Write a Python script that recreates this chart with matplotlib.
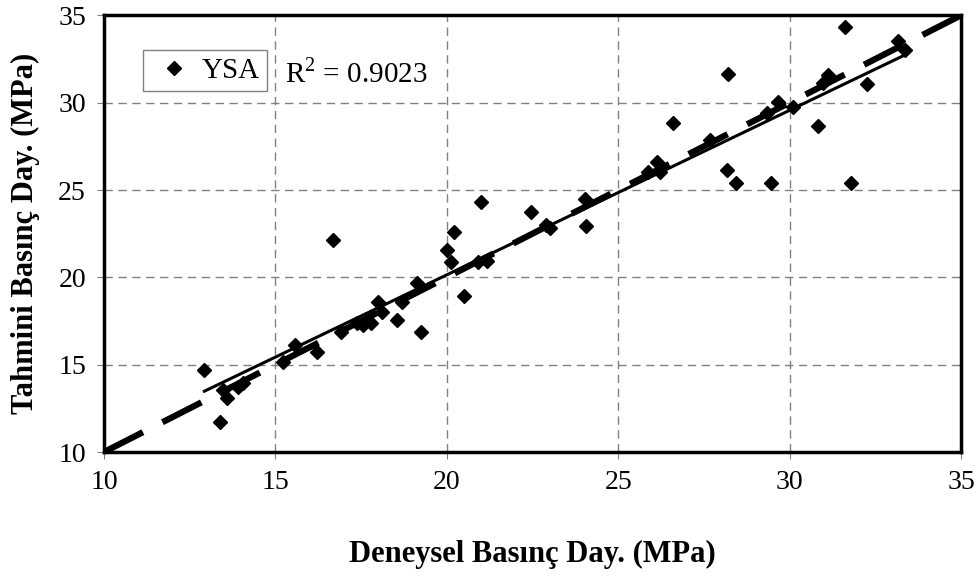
import numpy as np
import matplotlib
matplotlib.use('Agg')
import matplotlib.pyplot as plt

plt.rcParams['font.family'] = ['Liberation Serif', 'DejaVu Serif']
plt.rcParams['mathtext.fontset'] = 'custom'
plt.rcParams['mathtext.rm'] = 'Liberation Serif'

# Measured (Deneysel) vs. predicted (Tahmini) compressive strength, MPa
deneysel = [12.93, 13.38, 13.58, 13.48, 13.90, 14.06, 15.23, 15.57, 16.20, 16.91,
            17.37, 16.67, 17.56, 17.80, 18.00, 18.10, 18.54, 18.68, 19.12, 19.24,
            20.00, 20.11, 20.22, 20.51, 21.00, 20.92, 21.16, 22.45, 23.01, 22.90,
            24.06, 24.03, 26.59, 26.12, 26.22, 25.88, 28.21, 27.68, 28.16, 28.45,
            29.45, 29.67, 30.11, 29.33, 30.84, 31.62, 31.78, 32.25, 31.13, 30.98,
            33.17, 33.37]
tahmini = [14.72, 11.70, 13.08, 13.55, 13.74, 13.93, 15.17, 16.13, 15.71, 16.86,
           17.37, 22.14, 17.27, 17.37, 18.60, 18.03, 17.56, 18.60, 19.66, 16.86,
           21.57, 20.90, 22.61, 18.93, 24.30, 20.90, 20.95, 23.76, 22.81, 23.00,
           22.96, 24.47, 28.82, 26.62, 26.05, 26.05, 31.64, 27.86, 26.14, 25.42,
           25.42, 30.05, 29.77, 29.39, 28.68, 34.31, 25.38, 31.07, 31.58, 31.10,
           33.55, 33.01]
r2_text = 'R$^2$ = 0.9023'
ticks = [10, 15, 20, 25, 30, 35]

fig = plt.figure(figsize=(9.78, 5.74), dpi=100)
ax = fig.add_axes([0.1063, 0.2125, 0.8763, 0.7608])

ax.grid(True, color='#808080', linestyle=(0, (6, 4)), linewidth=1)
ax.set_axisbelow(True)

ax.plot(deneysel, tahmini, linestyle='none', marker='D', markersize=7.5,
        color='black', label='YSA', zorder=3)

# linear trend line
x = np.array(deneysel)
k, b = np.polyfit(x, np.array(tahmini), 1)
xs = np.array([x.min(), x.max()])
ax.plot(xs, k * xs + b, color='black', linewidth=2.2, zorder=4)

# y = x reference line
ax.plot([10, 35], [10, 35], color='black', linewidth=4.5,
        linestyle=(0, (7, 3.5)), solid_capstyle='butt', zorder=4)

ax.set_xlim(10, 35)
ax.set_ylim(10, 35)
ax.set_xticks(ticks)
ax.set_yticks(ticks)
ax.tick_params(labelsize=20, direction='out', length=5, color='#808080', pad=8)
for s in ax.spines.values():
    s.set_linewidth(2.5)

ax.set_xlabel('Deneysel Basınç Day. (MPa)', fontsize=22, fontweight='bold', labelpad=32)
ax.set_ylabel('Tahmini Basınç Day. (MPa)', fontsize=22, fontweight='bold', labelpad=13)

leg = ax.legend(loc='upper left', bbox_to_anchor=(0.0455, 0.9205), borderaxespad=0,
                fontsize=21, fancybox=False, edgecolor='#808080', framealpha=1,
                handletextpad=0.15, handlelength=1.6, borderpad=0.25)
leg.get_frame().set_linewidth(1)

ax.text(0.211, 0.868, r2_text, transform=ax.transAxes, fontsize=21, va='center', ha='left')

fig.savefig('out.png', dpi=100)
